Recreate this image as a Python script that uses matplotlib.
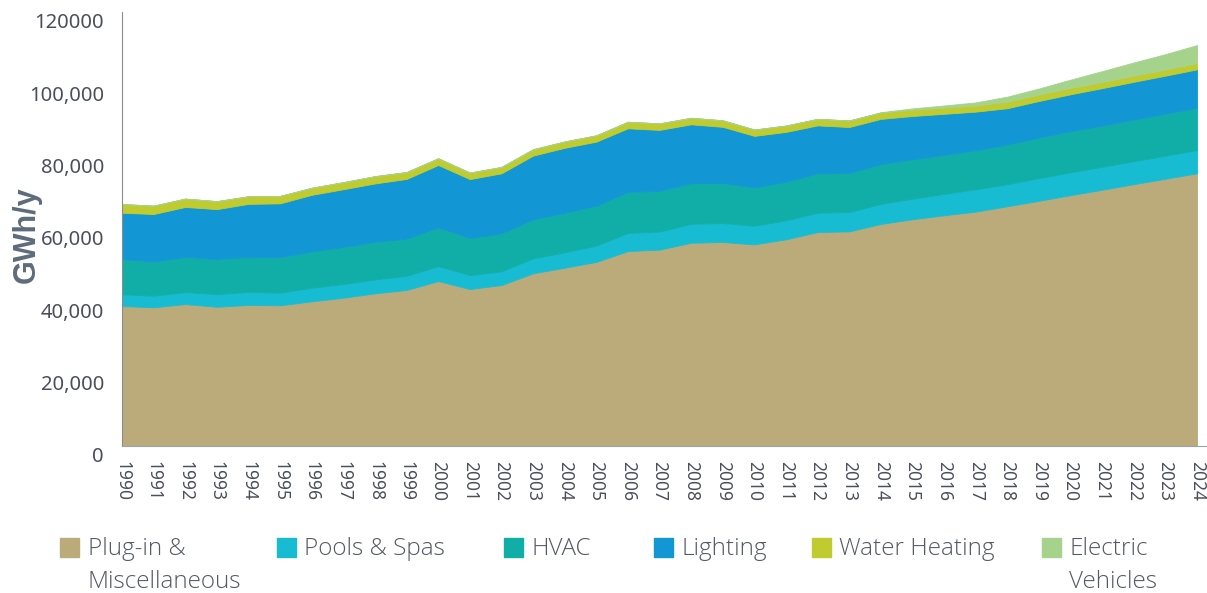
import numpy as np
import matplotlib
matplotlib.use("Agg")
from matplotlib import pyplot as plt
from matplotlib import transforms
from matplotlib import font_manager
from matplotlib.patches import Rectangle

# Data (GWh/y)
years = list(range(1990, 2025))

plug_in = [38700, 38350, 39250, 38500, 39000, 38900, 40000, 41000, 42200, 43150,
           45600, 43400, 44500, 47750, 49300, 50900, 53900, 54300, 56200, 56400,
           55750, 57150, 59150, 59350, 61400, 62700, 63800, 64800, 66300, 67800,
           69350, 70850, 72400, 73900, 75400]
pools_spas = [3250, 3200, 3300, 3500, 3600, 3500, 3750, 3800, 3850, 3900,
              4150, 3850, 3800, 4150, 4250, 4500, 5000, 5000, 5250, 5250,
              5150, 5250, 5350, 5350, 5550, 5700, 5900, 6200, 6100, 6250,
              6350, 6350, 6350, 6350, 6450]
hvac = [9750, 9500, 9750, 9700, 9700, 9850, 10050, 10250, 10400, 10300,
        10700, 10300, 10500, 10800, 10950, 11050, 11350, 11250, 11250, 11050,
        10600, 10650, 10900, 10850, 11000, 10900, 10800, 10800, 10950, 11250,
        11350, 11400, 11550, 11650, 11700]
lighting = [12800, 13100, 13800, 13800, 14650, 14850, 15650, 15950, 16150, 16500,
            17250, 16250, 16600, 17600, 17950, 17700, 17600, 16850, 16250, 15550,
            14250, 13800, 13250, 12650, 12500, 11950, 11350, 10650, 10050, 10100,
            10200, 10350, 10400, 10500, 10600]
water_heating = [2400, 2300, 2300, 2200, 2100, 2050, 1950, 1950, 2000, 1900,
                 1850, 1800, 1750, 1750, 1750, 1750, 1800, 1800, 1800, 1800,
                 1750, 1750, 1800, 1800, 1750, 1750, 1700, 1700, 1800, 1800,
                 1750, 1700, 1700, 1700, 1700]
electric_vehicles = [0, 0, 0, 0, 0, 0, 0, 0, 0, 0,
                     0, 0, 0, 0, 0, 0, 0, 0, 0, 0,
                     0, 0, 0, 0, 100, 350, 600, 850, 1400, 1650,
                     2300, 3000, 3650, 4250, 5000]

series_names = ["Plug-in &\nMiscellaneous", "Pools & Spas", "HVAC", "Lighting",
                "Water Heating", "Electric\nVehicles"]
colors = ["#BBAA7A", "#18BCD2", "#11AEA8", "#1297D4", "#BFCB2E", "#A6D38B"]

y_ticks = [0, 20000, 40000, 60000, 80000, 100000, 120000]
y_tick_labels = ["0", "20,000", "40,000", "60,000", "80,000", "100,000", "120000"]

text_grey = "#4b4f5a"
narrow = font_manager.FontProperties(family=["Noto Sans", "DejaVu Sans"], stretch="condensed")

# Figure
fig = plt.figure(figsize=(12.07, 5.93), dpi=100)
W, H = 1207, 593
ax = fig.add_axes([122 / W, 147 / H, (1206 - 122) / W, (581 - 147) / H])

ax.stackplot(years, plug_in, pools_spas, hvac, lighting, water_heating, electric_vehicles,
             colors=colors, linewidth=0.6, edgecolor="face")

ax.set_xlim(1990, 2024 + 9 / 31.6)
ax.set_ylim(0, 120000)

## Eixos
for s in ["top", "right"]:
    ax.spines[s].set_visible(False)
ax.spines["left"].set_color("#8c8c8c")
ax.spines["bottom"].set_color("#9aa5a5")

ax.set_xticks(years)
xprop = narrow.copy()
xprop.set_size(12.5)
ax.set_xticklabels([str(y) for y in years], rotation=-90, fontproperties=xprop,
                   color=text_grey)
ax.set_yticks(y_ticks)
yprop = narrow.copy()
yprop.set_size(14.5)
ax.set_yticklabels(y_tick_labels, fontproperties=yprop, color=text_grey)
ax.tick_params(axis="x", length=0, pad=11)
ax.tick_params(axis="y", length=0, pad=13)

# labels sit a little below their gridline in the reference
offset = transforms.ScaledTranslation(0, -0.09, fig.dpi_scale_trans)
for lab in ax.get_yticklabels():
    lab.set_transform(lab.get_transform() + offset)

fig.text(27 / W, 1 - 235 / H, "GWh/y", rotation=90, ha="center", va="center",
         family=["Liberation Sans", "DejaVu Sans"], fontweight="bold",
         fontsize=22, color="#5d6b7a")

# Legend (manual, the spacing in the reference is uneven)
square_x = [60, 277, 504, 654, 812, 1042]
text_x = [88, 304, 532, 681, 839, 1069]
for sx, tx, name, c in zip(square_x, text_x, series_names, colors):
    fig.patches.append(Rectangle((sx / W, 1 - 557 / H), 19 / W, 19 / H,
                                 transform=fig.transFigure, color=c))
    fig.text(tx / W, 1 - 537 / H, name, ha="left", va="top", fontsize=17.5,
             family=["Open Sans", "DejaVu Sans"], fontweight="light",
             color="#545964", linespacing=1.5)

fig.savefig("out.png", dpi=100)
